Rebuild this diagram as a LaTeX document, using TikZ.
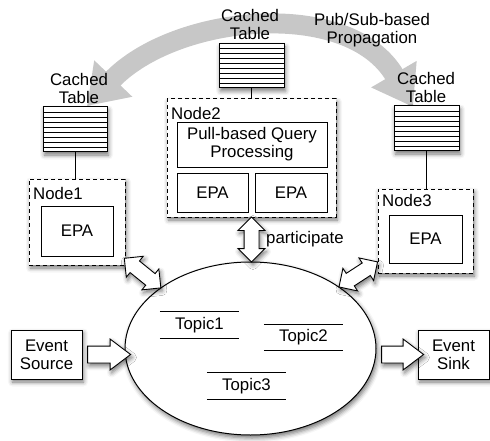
\documentclass[tikz,border=0pt]{standalone}
\usepackage{fontspec}
\setmainfont{Liberation Sans}
\usetikzlibrary{shapes.geometric,shapes.arrows,arrows.meta,calc,shadows.blur}
\begin{document}
\begin{tikzpicture}[x=1pt,y=-1pt,
  every node/.style={font=\fontsize{16.8}{18}\selectfont},
  softshadow/.style={blur shadow={shadow xshift=1.5pt,shadow yshift=-3pt,shadow blur radius=4.5pt,shadow opacity=55}},
  solidbox/.style={draw,fill=white,line width=0.9pt,inner sep=0pt,outer sep=0pt,align=center},
  dashbox/.style={draw,fill=white,line width=1pt,dash pattern=on 4pt off 3pt,inner sep=0pt,outer sep=0pt,softshadow},
  tablebox/.style={draw,fill=white,line width=1pt,inner sep=0pt,outer sep=0pt,softshadow},
  darrow/.style={double arrow,draw,fill=white,line width=0.9pt,inner xsep=0pt,inner ysep=7pt,double arrow head extend=6pt,double arrow tip angle=90,outer sep=0pt,softshadow},
  sarrow/.style={single arrow,draw,fill=white,line width=0.9pt,inner xsep=0pt,inner ysep=8pt,single arrow head extend=7pt,single arrow tip angle=74,outer sep=0pt,softshadow},
  lbl/.style={inner sep=0pt,align=center},
  topicline/.style={line width=0.9pt}
]
\useasboundingbox (0,0) rectangle (490,441);

% grey propagation arc
\coordinate (gl) at (87,106);
\coordinate (gr) at (413,107);
\draw[line width=20pt,black!22,{Triangle[width=50pt,length=38pt]}-{Triangle[width=50pt,length=38pt]}]
  (gl) .. controls (175,14) and (349,-3) .. (gr);

% tables
\node[tablebox,minimum width=64pt,minimum height=45pt] (tab1) at (75,129.5) {};
\node[tablebox,minimum width=65pt,minimum height=44pt] (tab2) at (251.5,66) {};
\node[tablebox,minimum width=65pt,minimum height=45pt] (tab3) at (426.5,128.5) {};
\foreach \t in {tab1,tab2,tab3}{
  \foreach \i in {1,...,8}{
    \draw[line width=0.9pt] ($(\t.north west)!\i/9!(\t.south west)$) -- ($(\t.north east)!\i/9!(\t.south east)$);
  }
}
\node[lbl] (c1) at (79,88) {Cached\\Table};
\node[lbl] (c2) at (250,24) {Cached\\Table};
\node[lbl] (c3) at (426,87) {Cached\\Table};
\node[lbl] (pub) at (372,30) {Pub/Sub-based\\Propagation};

% compute nodes
\node[dashbox,minimum width=96pt,minimum height=86pt] (n1) at (77,222) {};
\node[dashbox,minimum width=169pt,minimum height=118pt] (n2) at (251.5,158) {};
\node[dashbox,minimum width=95pt,minimum height=84pt] (n3) at (425.5,231) {};
\node[lbl,anchor=west] at ($(n1.north west)+(4,14)$) {Node1};
\node[lbl,anchor=west] at ($(n2.north west)+(4,14.5)$) {Node2};
\node[lbl,anchor=west] at ($(n3.north west)+(4,11.5)$) {Node3};

\draw[line width=0.9pt] (tab1.south) -- (tab1.south |- n1.north);
\draw[line width=0.9pt] (tab2.south) -- (tab2.south |- n2.north);
\draw[line width=0.9pt] (tab3.south) -- (tab3.south |- n3.north);

\node[solidbox,minimum width=72pt,minimum height=50pt] (epa1) at (77,231) {EPA};
\node[solidbox,minimum width=150pt,minimum height=45pt] (pqp) at (252,144.5) {Pull-based Query\\Processing};
\node[solidbox,minimum width=71pt,minimum height=39pt] (epa2a) at (212.5,192.5) {EPA};
\node[solidbox,minimum width=72pt,minimum height=39pt] (epa2b) at (291,192.5) {EPA};
\node[solidbox,minimum width=73pt,minimum height=48pt] (epa3) at (425.5,239) {EPA};

% event broker
\node[ellipse,draw,fill=white,line width=1pt,minimum width=251pt,minimum height=173pt,inner sep=0pt,outer sep=0pt,softshadow] (ell) at (250.5,348.5) {};
\foreach \n/\p/\s in {tp1/{(199.5,325)}/Topic1,tp2/{(303.5,337.5)}/Topic2,tp3/{(246.5,386)}/Topic3}{
  \node[inner sep=0pt,minimum width=79pt,minimum height=26pt] (\n) at \p {\s};
  \draw[topicline] (\n.north west) -- (\n.north east);
  \draw[topicline] (\n.south west) -- (\n.south east);
}

% source and sink
\node[solidbox,softshadow,minimum width=71pt,minimum height=49pt] (src) at (46.5,354.5) {Event\\Source};
\node[solidbox,softshadow,minimum width=71pt,minimum height=49pt] (snk) at (453.5,354.5) {Event\\Sink};

% block arrows
\node[sarrow,minimum height=43pt] (a4) at ($(src.east)!0.5!(src.east -| ell.west)$) {};
\node[sarrow,minimum height=42pt] (a5) at ($(snk.west)!0.5!(snk.west -| ell.east)$) {};
\node[darrow,minimum height=47pt,rotate=-39] (a1) at ($($(n1.south east)+(1,-8)$)!0.5!(ell.147)$) {};
\node[darrow,minimum height=45pt,rotate=90] (a2) at ($(n2.south)!0.5!(n2.south |- ell.north)$) {};
\node[darrow,minimum height=46pt,rotate=33] (a3) at ($($(n3.south west)+(0,-11)$)!0.5!(ell.35)$) {};
\node[lbl,anchor=west] at ($(a2.center)+(14.5,0)$) {participate};
\end{tikzpicture}
\end{document}
